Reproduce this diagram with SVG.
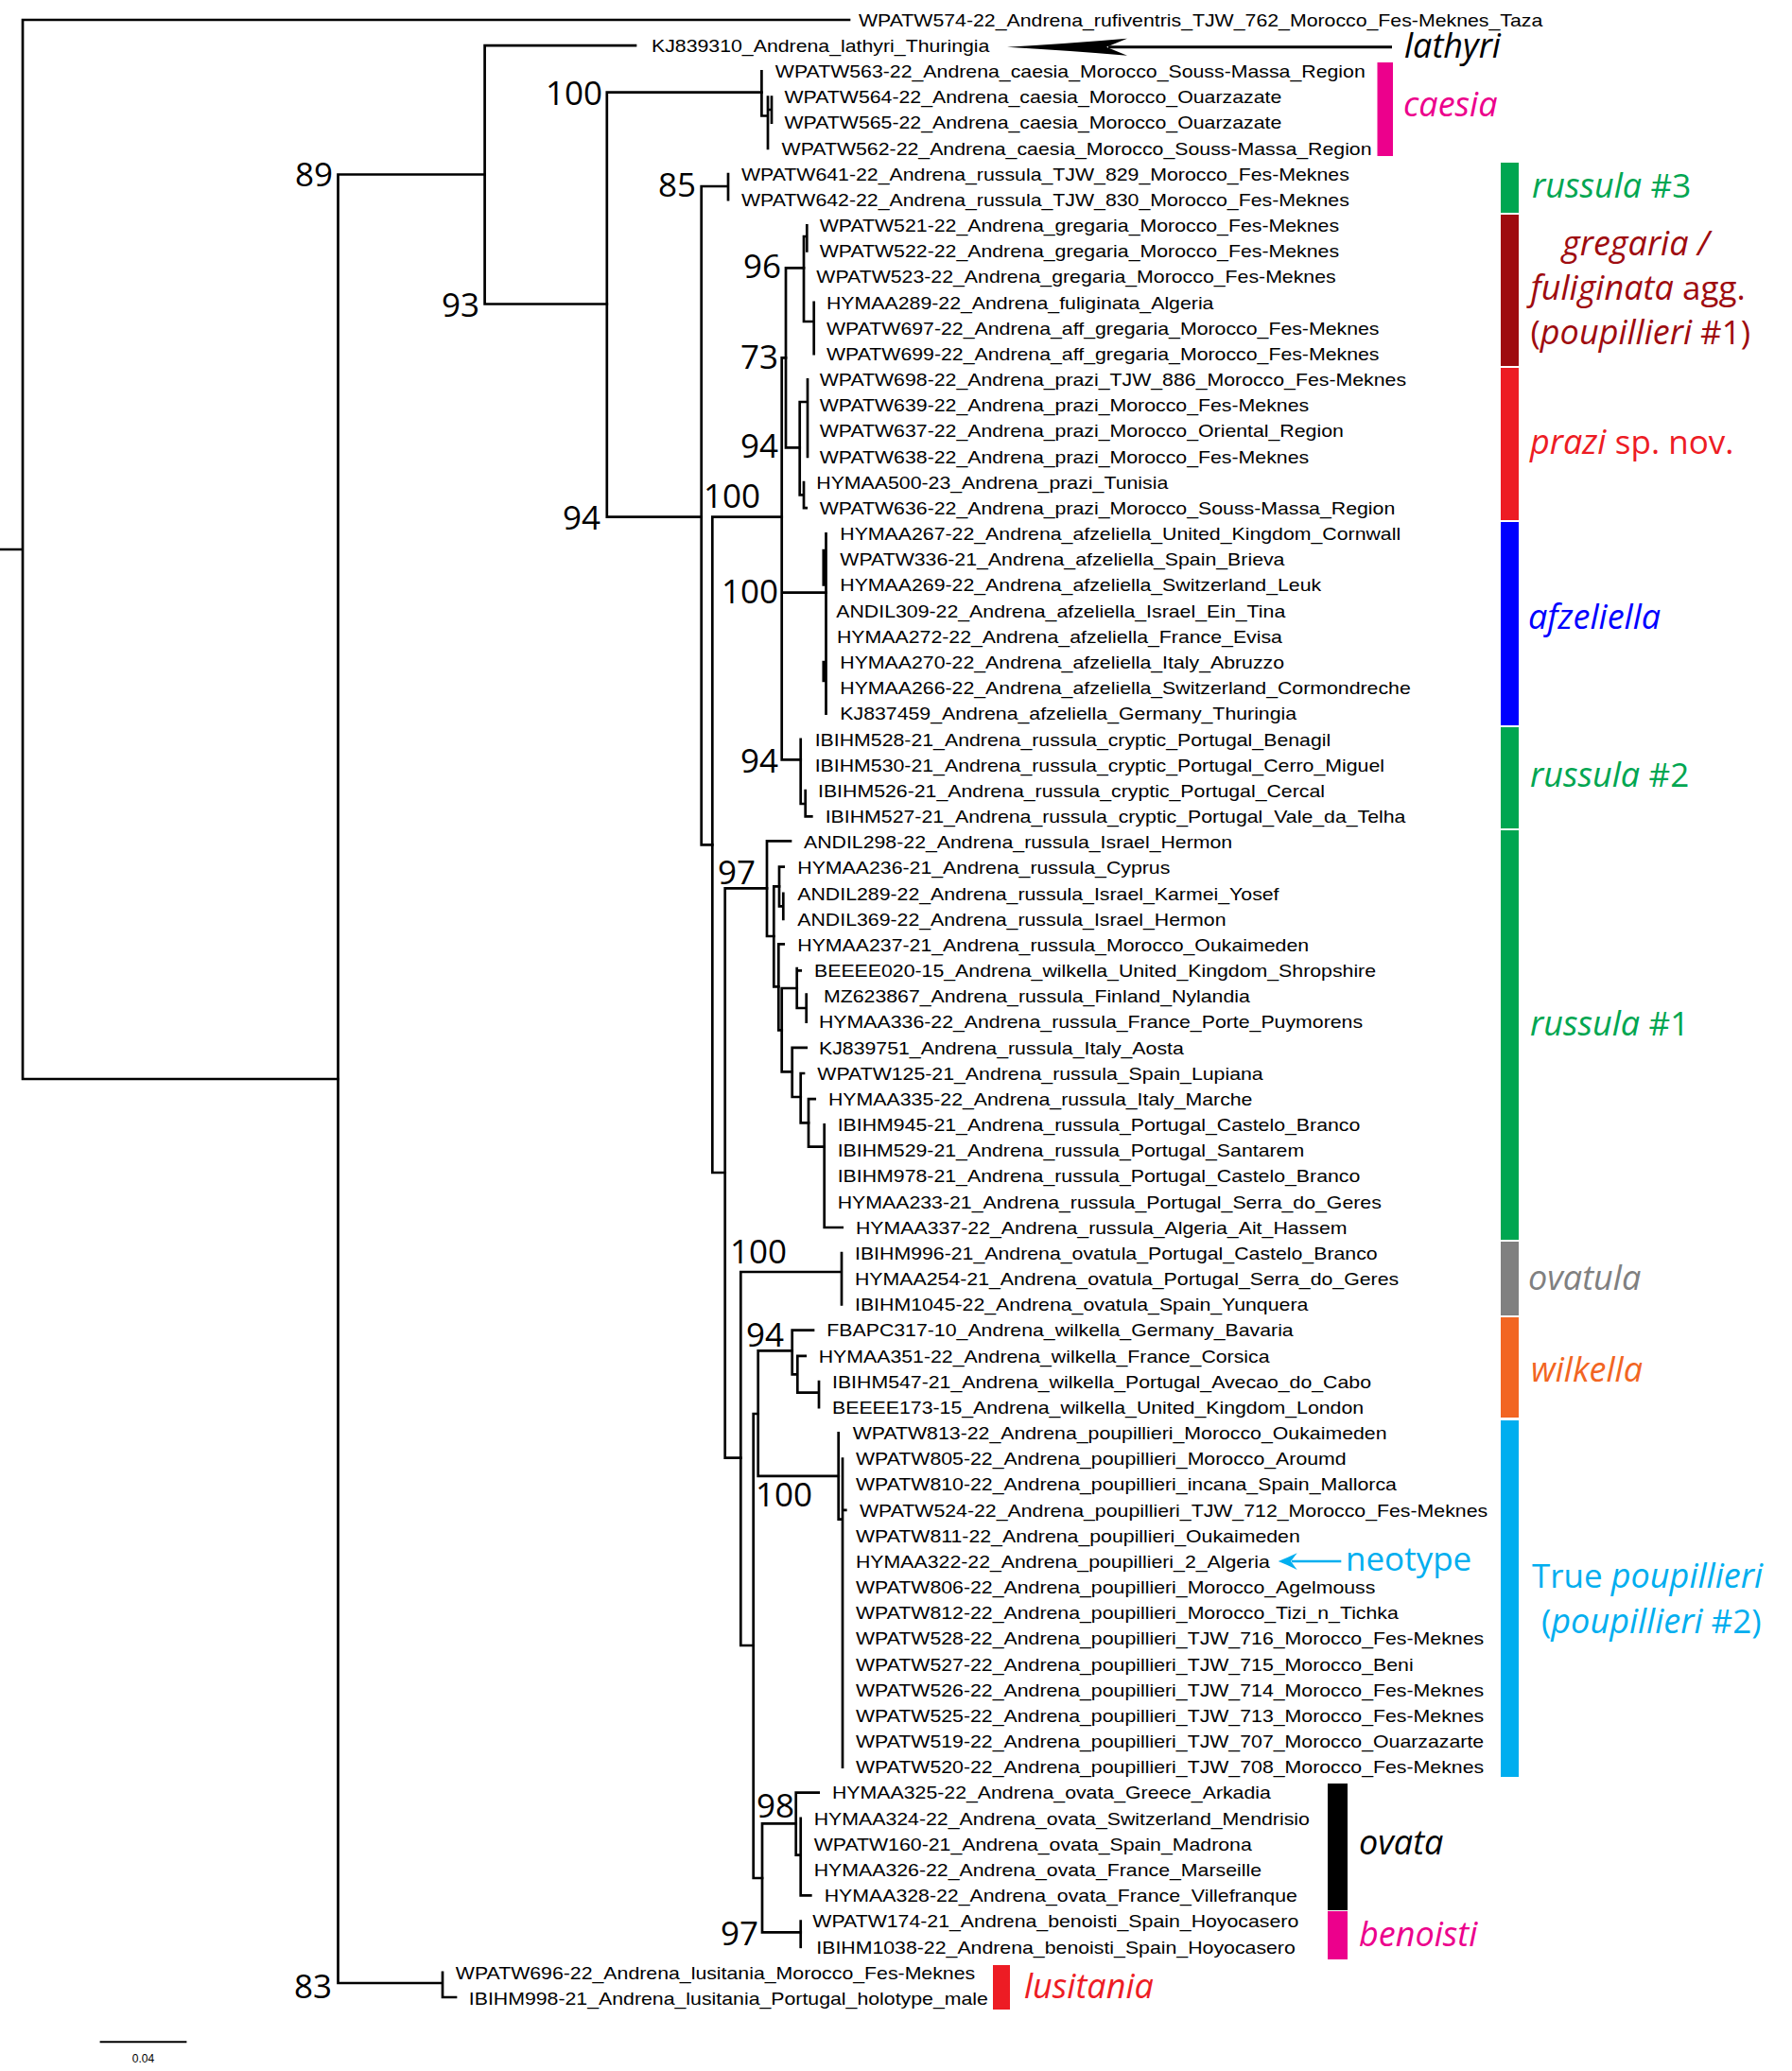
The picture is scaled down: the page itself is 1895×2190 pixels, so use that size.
<svg xmlns="http://www.w3.org/2000/svg" width="1895" height="2190" viewBox="0 0 1895 2190">
<style>
.br{fill:none;stroke:#000;stroke-width:2.7;stroke-linecap:square}
.tip{font-family:"Liberation Sans",Arial,sans-serif;font-size:18.6px;fill:#000}
.sup{font-family:"Open Sans","Noto Sans",sans-serif;font-size:35px;fill:#000;text-anchor:end}
.cl{font-family:"Open Sans","Noto Sans",sans-serif;font-size:36px;font-style:italic}
.up{font-style:normal;font-size:35px}
</style>
<rect width="1895" height="2190" fill="#fff"/>
<g id="connectors" class="br">
<path d="M0 581H24M24 21V1141M24 21H898M24 1141H357.5"/>
<path d="M357.5 184.5V2097M357.5 184.5H512.6M357.5 2097H468M468 2085.9V2112M468 2112H482"/>
<path d="M512.6 48.2V321.5M512.6 48.2H672M512.6 321.5H641.8"/>
<path d="M641.8 97.6V546.7M641.8 97.6H805.4M641.8 546.7H741.7"/>
<path d="M805.4 75.3V122.5M805.4 122.5H812M812 102.5V156.9M812 116H816M816 102.5V129.7"/>
<path d="M741.7 197V893.3M741.7 197H770M770 184V211.2M741.7 893.3H753.3"/>
<path d="M753.3 546.7V1240M753.3 546.7H826.7M753.3 1240H766.7"/>
<path d="M826.7 378.3V803.3M826.7 378.3H831M826.7 626.7H873.5M826.7 803.3H846.7"/>
<path d="M831 283.3V473.3M831 283.3H850M831 473.3H845.7"/>
<path d="M850 250V340M850 250H853.3M853.3 238.4V265.5M850 340H860.7M860.7 319.9V374.2"/>
<path d="M845.7 425V523.3M845.7 425H854M854 401.4V482.9M845.7 523.3H850M850 510.1V537.2M850 537.2H852.7"/>
<path d="M873.5 564.4V754.6M870.8 582V618.3M870.8 700V720"/>
<path d="M846.7 781.8V850M846.7 850H851.7M851.7 836.1V863.3M851.7 863.3H858.3"/>
<path d="M766.7 939.3V1541.7M766.7 939.3H811M766.7 1541.7H783.3"/>
<path d="M811 889.3V990M811 889.3H836M811 990H818.3"/>
<path d="M818.3 937.3V1043.3M818.3 937.3H824M818.3 1043.3H823.3"/>
<path d="M824 916.7V958.3M824 916.7H828.7M824 958.3H828.3M828.3 944.8V972"/>
<path d="M823.3 998.3V1089.3M823.3 998.3H828.7M823.3 1089.3H826.7"/>
<path d="M826.7 1045V1133.3M826.7 1045H842.7M826.7 1133.3H837.7"/>
<path d="M842.7 1024V1066M842.7 1026.3H846.7M842.7 1066H852.7M852.7 1051.7V1080.6"/>
<path d="M837.7 1107.8V1160M837.7 1107.8H852.7M837.7 1160H846.7"/>
<path d="M846.7 1135V1187.3M846.7 1135H850M846.7 1187.3H855"/>
<path d="M855 1162.1V1212.7M855 1162.1H861.7M855 1212.7H871.7"/>
<path d="M871.7 1189.3V1298M871.7 1298H890.7"/>
<path d="M783.3 1345V1740M783.3 1345H890M890 1325.2V1379.5M783.3 1740H796.7"/>
<path d="M796.7 1495V1986M796.7 1495H801.7M796.7 1986H806"/>
<path d="M801.7 1428.3V1560.8M801.7 1428.3H837.7M801.7 1560.8H886.7"/>
<path d="M837.7 1406.7V1453.3M837.7 1406.7H860M837.7 1453.3H843.3M843.3 1433.8V1472.7M843.3 1433.8H851.7M843.3 1472.7H866M866 1461V1488.2"/>
<path d="M886.7 1515.4V1606.7M886.7 1606.7H891M891 1542.5V1868.6M891 1596.9H894.3"/>
<path d="M806 1928.3V2043.3M806 1928.3H841.7M806 2043.3H846.7"/>
<path d="M841.7 1895.7V1961.7M841.7 1895.7H865.7M841.7 1961.7H846.7M846.7 1922.9V2004.4M846.7 2004.4H857.3"/>
<path d="M846.7 2031.6V2058.8"/>
</g>
<g id="support-values">
<text class="sup" x="352" y="197">89</text>
<text class="sup" x="507" y="335">93</text>
<text class="sup" x="637" y="111">100</text>
<text class="sup" x="635" y="559.5">94</text>
<text class="sup" x="736" y="208">85</text>
<text class="sup" x="826" y="294">96</text>
<text class="sup" x="823" y="390">73</text>
<text class="sup" x="823" y="484">94</text>
<text class="sup" x="804" y="536.7">100</text>
<text class="sup" x="823" y="638">100</text>
<text class="sup" x="823" y="816.7">94</text>
<text class="sup" x="799" y="935">97</text>
<text class="sup" x="832" y="1336">100</text>
<text class="sup" x="829" y="1424">94</text>
<text class="sup" x="859" y="1593">100</text>
<text class="sup" x="840" y="1921.7">98</text>
<text class="sup" x="802" y="2056.7">97</text>
<text class="sup" x="351" y="2113.3">83</text>
</g>
<g id="tips">
<g id="t1"><text class="tip" transform="translate(908 27.7) scale(1.145 1)">WPATW574-22_Andrena_rufiventris_TJW_762_Morocco_Fes-Meknes_Taza</text></g>
<g id="t2"><text class="tip" transform="translate(689 54.9) scale(1.145 1)">KJ839310_Andrena_lathyri_Thuringia</text></g>
<g id="t3"><text class="tip" transform="translate(819.8 82) scale(1.145 1)">WPATW563-22_Andrena_caesia_Morocco_Souss-Massa_Region</text></g>
<g id="t4"><text class="tip" transform="translate(829.5 109.2) scale(1.145 1)">WPATW564-22_Andrena_caesia_Morocco_Ouarzazate</text></g>
<g id="t5"><text class="tip" transform="translate(829.5 136.4) scale(1.145 1)">WPATW565-22_Andrena_caesia_Morocco_Ouarzazate</text></g>
<g id="t6"><text class="tip" transform="translate(826.6 163.6) scale(1.145 1)">WPATW562-22_Andrena_caesia_Morocco_Souss-Massa_Region</text></g>
<g id="t7"><text class="tip" transform="translate(784 190.7) scale(1.145 1)">WPATW641-22_Andrena_russula_TJW_829_Morocco_Fes-Meknes</text></g>
<g id="t8"><text class="tip" transform="translate(784 217.9) scale(1.145 1)">WPATW642-22_Andrena_russula_TJW_830_Morocco_Fes-Meknes</text></g>
<g id="t9"><text class="tip" transform="translate(866.7 245.1) scale(1.145 1)">WPATW521-22_Andrena_gregaria_Morocco_Fes-Meknes</text></g>
<g id="t10"><text class="tip" transform="translate(866.7 272.2) scale(1.145 1)">WPATW522-22_Andrena_gregaria_Morocco_Fes-Meknes</text></g>
<g id="t11"><text class="tip" transform="translate(863.3 299.4) scale(1.145 1)">WPATW523-22_Andrena_gregaria_Morocco_Fes-Meknes</text></g>
<g id="t12"><text class="tip" transform="translate(874 326.6) scale(1.145 1)">HYMAA289-22_Andrena_fuliginata_Algeria</text></g>
<g id="t13"><text class="tip" transform="translate(874 353.7) scale(1.145 1)">WPATW697-22_Andrena_aff_gregaria_Morocco_Fes-Meknes</text></g>
<g id="t14"><text class="tip" transform="translate(874 380.9) scale(1.145 1)">WPATW699-22_Andrena_aff_gregaria_Morocco_Fes-Meknes</text></g>
<g id="t15"><text class="tip" transform="translate(866.7 408.1) scale(1.145 1)">WPATW698-22_Andrena_prazi_TJW_886_Morocco_Fes-Meknes</text></g>
<g id="t16"><text class="tip" transform="translate(866.7 435.2) scale(1.145 1)">WPATW639-22_Andrena_prazi_Morocco_Fes-Meknes</text></g>
<g id="t17"><text class="tip" transform="translate(866.7 462.4) scale(1.145 1)">WPATW637-22_Andrena_prazi_Morocco_Oriental_Region</text></g>
<g id="t18"><text class="tip" transform="translate(866.7 489.6) scale(1.145 1)">WPATW638-22_Andrena_prazi_Morocco_Fes-Meknes</text></g>
<g id="t19"><text class="tip" transform="translate(863.3 516.8) scale(1.145 1)">HYMAA500-23_Andrena_prazi_Tunisia</text></g>
<g id="t20"><text class="tip" transform="translate(866.7 543.9) scale(1.145 1)">WPATW636-22_Andrena_prazi_Morocco_Souss-Massa_Region</text></g>
<g id="t21"><text class="tip" transform="translate(888.3 571.1) scale(1.145 1)">HYMAA267-22_Andrena_afzeliella_United_Kingdom_Cornwall</text></g>
<g id="t22"><text class="tip" transform="translate(888.3 598.3) scale(1.145 1)">WPATW336-21_Andrena_afzeliella_Spain_Brieva</text></g>
<g id="t23"><text class="tip" transform="translate(888.3 625.4) scale(1.145 1)">HYMAA269-22_Andrena_afzeliella_Switzerland_Leuk</text></g>
<g id="t24"><text class="tip" transform="translate(884.3 652.6) scale(1.145 1)">ANDIL309-22_Andrena_afzeliella_Israel_Ein_Tina</text></g>
<g id="t25"><text class="tip" transform="translate(885 679.8) scale(1.145 1)">HYMAA272-22_Andrena_afzeliella_France_Evisa</text></g>
<g id="t26"><text class="tip" transform="translate(888.3 707) scale(1.145 1)">HYMAA270-22_Andrena_afzeliella_Italy_Abruzzo</text></g>
<g id="t27"><text class="tip" transform="translate(888.3 734.1) scale(1.145 1)">HYMAA266-22_Andrena_afzeliella_Switzerland_Cormondreche</text></g>
<g id="t28"><text class="tip" transform="translate(888.3 761.3) scale(1.145 1)">KJ837459_Andrena_afzeliella_Germany_Thuringia</text></g>
<g id="t29"><text class="tip" transform="translate(861.7 788.5) scale(1.145 1)">IBIHM528-21_Andrena_russula_cryptic_Portugal_Benagil</text></g>
<g id="t30"><text class="tip" transform="translate(861.7 815.6) scale(1.145 1)">IBIHM530-21_Andrena_russula_cryptic_Portugal_Cerro_Miguel</text></g>
<g id="t31"><text class="tip" transform="translate(865 842.8) scale(1.145 1)">IBIHM526-21_Andrena_russula_cryptic_Portugal_Cercal</text></g>
<g id="t32"><text class="tip" transform="translate(872.7 870) scale(1.145 1)">IBIHM527-21_Andrena_russula_cryptic_Portugal_Vale_da_Telha</text></g>
<g id="t33"><text class="tip" transform="translate(850 897.1) scale(1.145 1)">ANDIL298-22_Andrena_russula_Israel_Hermon</text></g>
<g id="t34"><text class="tip" transform="translate(843.3 924.3) scale(1.145 1)">HYMAA236-21_Andrena_russula_Cyprus</text></g>
<g id="t35"><text class="tip" transform="translate(843.3 951.5) scale(1.145 1)">ANDIL289-22_Andrena_russula_Israel_Karmei_Yosef</text></g>
<g id="t36"><text class="tip" transform="translate(843.3 978.7) scale(1.145 1)">ANDIL369-22_Andrena_russula_Israel_Hermon</text></g>
<g id="t37"><text class="tip" transform="translate(843.3 1005.8) scale(1.145 1)">HYMAA237-21_Andrena_russula_Morocco_Oukaimeden</text></g>
<g id="t38"><text class="tip" transform="translate(861 1033) scale(1.145 1)">BEEEE020-15_Andrena_wilkella_United_Kingdom_Shropshire</text></g>
<g id="t39"><text class="tip" transform="translate(871 1060.2) scale(1.145 1)">MZ623867_Andrena_russula_Finland_Nylandia</text></g>
<g id="t40"><text class="tip" transform="translate(866 1087.3) scale(1.145 1)">HYMAA336-22_Andrena_russula_France_Porte_Puymorens</text></g>
<g id="t41"><text class="tip" transform="translate(866 1114.5) scale(1.145 1)">KJ839751_Andrena_russula_Italy_Aosta</text></g>
<g id="t42"><text class="tip" transform="translate(864.3 1141.7) scale(1.145 1)">WPATW125-21_Andrena_russula_Spain_Lupiana</text></g>
<g id="t43"><text class="tip" transform="translate(876 1168.8) scale(1.145 1)">HYMAA335-22_Andrena_russula_Italy_Marche</text></g>
<g id="t44"><text class="tip" transform="translate(885.7 1196) scale(1.145 1)">IBIHM945-21_Andrena_russula_Portugal_Castelo_Branco</text></g>
<g id="t45"><text class="tip" transform="translate(885.7 1223.2) scale(1.145 1)">IBIHM529-21_Andrena_russula_Portugal_Santarem</text></g>
<g id="t46"><text class="tip" transform="translate(885.7 1250.4) scale(1.145 1)">IBIHM978-21_Andrena_russula_Portugal_Castelo_Branco</text></g>
<g id="t47"><text class="tip" transform="translate(885.7 1277.5) scale(1.145 1)">HYMAA233-21_Andrena_russula_Portugal_Serra_do_Geres</text></g>
<g id="t48"><text class="tip" transform="translate(905 1304.7) scale(1.145 1)">HYMAA337-22_Andrena_russula_Algeria_Ait_Hassem</text></g>
<g id="t49"><text class="tip" transform="translate(904 1331.9) scale(1.145 1)">IBIHM996-21_Andrena_ovatula_Portugal_Castelo_Branco</text></g>
<g id="t50"><text class="tip" transform="translate(904 1359) scale(1.145 1)">HYMAA254-21_Andrena_ovatula_Portugal_Serra_do_Geres</text></g>
<g id="t51"><text class="tip" transform="translate(904 1386.2) scale(1.145 1)">IBIHM1045-22_Andrena_ovatula_Spain_Yunquera</text></g>
<g id="t52"><text class="tip" transform="translate(874.3 1413.4) scale(1.145 1)">FBAPC317-10_Andrena_wilkella_Germany_Bavaria</text></g>
<g id="t53"><text class="tip" transform="translate(865.7 1440.5) scale(1.145 1)">HYMAA351-22_Andrena_wilkella_France_Corsica</text></g>
<g id="t54"><text class="tip" transform="translate(880 1467.7) scale(1.145 1)">IBIHM547-21_Andrena_wilkella_Portugal_Avecao_do_Cabo</text></g>
<g id="t55"><text class="tip" transform="translate(880 1494.9) scale(1.145 1)">BEEEE173-15_Andrena_wilkella_United_Kingdom_London</text></g>
<g id="t56"><text class="tip" transform="translate(901.7 1522.1) scale(1.145 1)">WPATW813-22_Andrena_poupillieri_Morocco_Oukaimeden</text></g>
<g id="t57"><text class="tip" transform="translate(905 1549.2) scale(1.145 1)">WPATW805-22_Andrena_poupillieri_Morocco_Aroumd</text></g>
<g id="t58"><text class="tip" transform="translate(905 1576.4) scale(1.145 1)">WPATW810-22_Andrena_poupillieri_incana_Spain_Mallorca</text></g>
<g id="t59"><text class="tip" transform="translate(909 1603.6) scale(1.145 1)">WPATW524-22_Andrena_poupillieri_TJW_712_Morocco_Fes-Meknes</text></g>
<g id="t60"><text class="tip" transform="translate(905 1630.7) scale(1.145 1)">WPATW811-22_Andrena_poupillieri_Oukaimeden</text></g>
<g id="t61"><text class="tip" transform="translate(905 1657.9) scale(1.145 1)">HYMAA322-22_Andrena_poupillieri_2_Algeria</text></g>
<g id="t62"><text class="tip" transform="translate(905 1685.1) scale(1.145 1)">WPATW806-22_Andrena_poupillieri_Morocco_Agelmouss</text></g>
<g id="t63"><text class="tip" transform="translate(905 1712.2) scale(1.145 1)">WPATW812-22_Andrena_poupillieri_Morocco_Tizi_n_Tichka</text></g>
<g id="t64"><text class="tip" transform="translate(905 1739.4) scale(1.145 1)">WPATW528-22_Andrena_poupillieri_TJW_716_Morocco_Fes-Meknes</text></g>
<g id="t65"><text class="tip" transform="translate(905 1766.6) scale(1.145 1)">WPATW527-22_Andrena_poupillieri_TJW_715_Morocco_Beni</text></g>
<g id="t66"><text class="tip" transform="translate(905 1793.8) scale(1.145 1)">WPATW526-22_Andrena_poupillieri_TJW_714_Morocco_Fes-Meknes</text></g>
<g id="t67"><text class="tip" transform="translate(905 1820.9) scale(1.145 1)">WPATW525-22_Andrena_poupillieri_TJW_713_Morocco_Fes-Meknes</text></g>
<g id="t68"><text class="tip" transform="translate(905 1848.1) scale(1.145 1)">WPATW519-22_Andrena_poupillieri_TJW_707_Morocco_Ouarzazarte</text></g>
<g id="t69"><text class="tip" transform="translate(905 1875.3) scale(1.145 1)">WPATW520-22_Andrena_poupillieri_TJW_708_Morocco_Fes-Meknes</text></g>
<g id="t70"><text class="tip" transform="translate(880 1902.4) scale(1.145 1)">HYMAA325-22_Andrena_ovata_Greece_Arkadia</text></g>
<g id="t71"><text class="tip" transform="translate(860.7 1929.6) scale(1.145 1)">HYMAA324-22_Andrena_ovata_Switzerland_Mendrisio</text></g>
<g id="t72"><text class="tip" transform="translate(860.7 1956.8) scale(1.145 1)">WPATW160-21_Andrena_ovata_Spain_Madrona</text></g>
<g id="t73"><text class="tip" transform="translate(860.7 1983.9) scale(1.145 1)">HYMAA326-22_Andrena_ovata_France_Marseille</text></g>
<g id="t74"><text class="tip" transform="translate(871.7 2011.1) scale(1.145 1)">HYMAA328-22_Andrena_ovata_France_Villefranque</text></g>
<g id="t75"><text class="tip" transform="translate(859.3 2038.3) scale(1.145 1)">WPATW174-21_Andrena_benoisti_Spain_Hoyocasero</text></g>
<g id="t76"><text class="tip" transform="translate(863.3 2065.5) scale(1.145 1)">IBIHM1038-22_Andrena_benoisti_Spain_Hoyocasero</text></g>
<g id="t77"><text class="tip" transform="translate(481.8 2092.6) scale(1.145 1)">WPATW696-22_Andrena_lusitania_Morocco_Fes-Meknes</text></g>
<g id="t78"><text class="tip" transform="translate(495.8 2119.8) scale(1.145 1)">IBIHM998-21_Andrena_lusitania_Portugal_holotype_male</text></g>
</g>
<g id="clade-lathyri">
<path d="M1065 49.7Q1130 46 1192 40.7L1170 49.7L1192 58.7Q1130 53.4 1065 49.7Z" fill="#000"/>
<path d="M1172 49.7H1472" stroke="#000" stroke-width="3"/>
<text class="cl" x="1485" y="61" fill="#000">lathyri</text>
</g>
<g id="clade-caesia"><rect x="1456.5" y="66" width="16.5" height="99" fill="#EC008C"/><text class="cl" x="1484" y="123" fill="#EC008C">caesia</text></g>
<g id="clade-russula3"><rect x="1587" y="172" width="19" height="53" fill="#00A651"/><text class="cl" x="1620" y="209" fill="#00A651">russula <tspan class="up">#3</tspan></text></g>
<g id="clade-gregaria"><rect x="1587" y="227" width="19" height="160" fill="#9E0B0F"/>
<text class="cl" fill="#9E0B0F"><tspan x="1652" y="270">gregaria /</tspan><tspan x="1618.5" y="317">fuliginata <tspan class="up">agg.</tspan></tspan><tspan x="1618.5" y="364" class="up">(<tspan class="cl">poupillieri</tspan> #1)</tspan></text></g>
<g id="clade-prazi"><rect x="1587" y="389" width="19" height="161" fill="#ED1C24"/><text class="cl" x="1618" y="480" fill="#ED1C24">prazi <tspan class="up">sp. nov.</tspan></text></g>
<g id="clade-afzeliella"><rect x="1587" y="552" width="19" height="215" fill="#0000FF"/><text class="cl" x="1616" y="665" fill="#0000FF">afzeliella</text></g>
<g id="clade-russula2"><rect x="1587" y="769" width="19" height="107" fill="#00A651"/><text class="cl" x="1618" y="832" fill="#00A651">russula <tspan class="up">#2</tspan></text></g>
<g id="clade-russula1"><rect x="1587" y="878" width="19" height="433" fill="#00A651"/><text class="cl" x="1618" y="1095" fill="#00A651">russula <tspan class="up">#1</tspan></text></g>
<g id="clade-ovatula"><rect x="1587" y="1313" width="19" height="78" fill="#808080"/><text class="cl" x="1616" y="1364" fill="#808080">ovatula</text></g>
<g id="clade-wilkella"><rect x="1587" y="1393" width="19" height="106" fill="#F26522"/><text class="cl" x="1619" y="1461" fill="#F26522">wilkella</text></g>
<g id="clade-poupillieri"><rect x="1587" y="1502" width="19" height="377" fill="#00AEEF"/>
<text class="cl" fill="#00AEEF"><tspan x="1620" y="1678.5" class="up">True <tspan class="cl">poupillieri</tspan></tspan><tspan x="1630" y="1727" class="up">(<tspan class="cl">poupillieri</tspan> #2)</tspan></text></g>
<g id="neotype">
<path d="M1351.7 1651Q1362 1647 1371.7 1642.3L1365 1651L1371.7 1660Q1362 1655 1351.7 1651Z" fill="#00AEEF"/>
<path d="M1366 1651H1418.3" stroke="#00AEEF" stroke-width="2.5"/>
<text class="cl up" x="1423" y="1661" fill="#00AEEF">neotype</text>
</g>
<g id="clade-ovata"><rect x="1404" y="1886" width="21" height="134" fill="#000"/><text class="cl" x="1437" y="1961" fill="#000">ovata</text></g>
<g id="clade-benoisti"><rect x="1404" y="2021" width="21" height="51" fill="#EC008C"/><text class="cl" x="1437" y="2058" fill="#EC008C">benoisti</text></g>
<g id="clade-lusitania"><rect x="1050" y="2078" width="18" height="47" fill="#ED1C24"/><text class="cl" x="1083" y="2113" fill="#ED1C24">lusitania</text></g>
<g id="scale-bar">
<path d="M105.6 2159.3H197.4" stroke="#000" stroke-width="2"/>
<text x="151.5" y="2181" font-family="Liberation Sans,Arial,sans-serif" font-size="12" text-anchor="middle">0.04</text>
</g>
</svg>
